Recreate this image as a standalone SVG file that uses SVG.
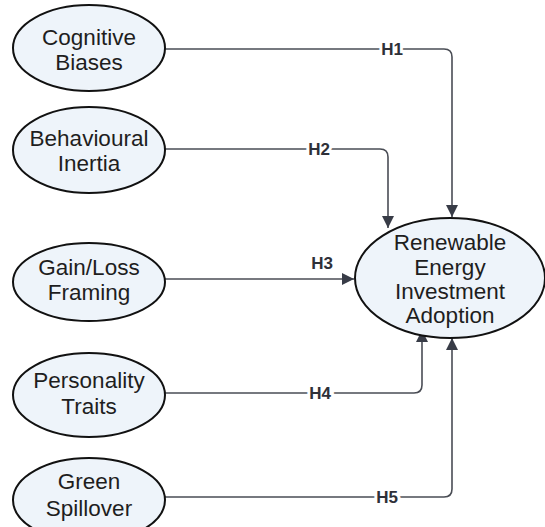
<svg xmlns="http://www.w3.org/2000/svg" width="545" height="527" viewBox="0 0 545 527">
<style>
.node ellipse{fill:#eef4fa;stroke:#111;stroke-width:2}
.node text{font-family:"Liberation Sans",Arial,sans-serif;font-size:22.5px;fill:#1e1e1e;text-anchor:middle}
.edge{fill:none;stroke:#4a4d55;stroke-width:1.6}
.lbl{font-family:"Liberation Sans",Arial,sans-serif;font-size:17px;font-weight:bold;fill:#2e3038;text-anchor:middle;stroke:#fff;stroke-width:6;paint-order:stroke}
</style>
<defs>
<marker id="arr" viewBox="0 0 12 12" refX="12" refY="6" markerWidth="12" markerHeight="12" markerUnits="userSpaceOnUse" orient="auto">
<path d="M0,0 L12,6 L0,12 Z" fill="#383c47"/>
</marker>
</defs>
<rect width="545" height="527" fill="#fff"/>
<g id="connectors">
<path class="edge" d="M165,49 H444 Q452,49 452,57 V217" marker-end="url(#arr)"/>
<path class="edge" d="M165,149 H380 Q388,149 388,157 V228" marker-end="url(#arr)"/>
<path class="edge" d="M165,279 H354" marker-end="url(#arr)"/>
<path class="edge" d="M165,393 H414 Q422,393 422,385 V330" marker-end="url(#arr)"/>
<path class="edge" d="M165,497 H444 Q452,497 452,489 V338" marker-end="url(#arr)"/>
<text class="lbl" x="392" y="55">H1</text>
<text class="lbl" x="319" y="155">H2</text>
<text class="lbl" x="322" y="269">H3</text>
<text class="lbl" x="320" y="399">H4</text>
<text class="lbl" x="387" y="503">H5</text>
</g>
<g id="n1" class="node">
<ellipse cx="89" cy="48" rx="76" ry="43"/>
<text x="89" y="45">Cognitive</text>
<text x="89" y="70">Biases</text>
</g>
<g id="n2" class="node">
<ellipse cx="89" cy="150" rx="76" ry="43"/>
<text x="89" y="146">Behavioural</text>
<text x="89" y="171">Inertia</text>
</g>
<g id="n3" class="node">
<ellipse cx="89" cy="282" rx="76" ry="39"/>
<text x="89" y="275">Gain/Loss</text>
<text x="89" y="300">Framing</text>
</g>
<g id="n4" class="node">
<ellipse cx="89" cy="395" rx="76" ry="42"/>
<text x="89" y="388">Personality</text>
<text x="89" y="414">Traits</text>
</g>
<g id="n5" class="node">
<ellipse cx="89" cy="500" rx="76" ry="42"/>
<text x="89" y="489">Green</text>
<text x="89" y="516">Spillover</text>
</g>
<g id="target" class="node">
<ellipse cx="450" cy="278" rx="95" ry="60"/>
<text x="450" y="250">Renewable</text>
<text x="450" y="275">Energy</text>
<text x="450" y="299">Investment</text>
<text x="450" y="323">Adoption</text>
</g>
</svg>
